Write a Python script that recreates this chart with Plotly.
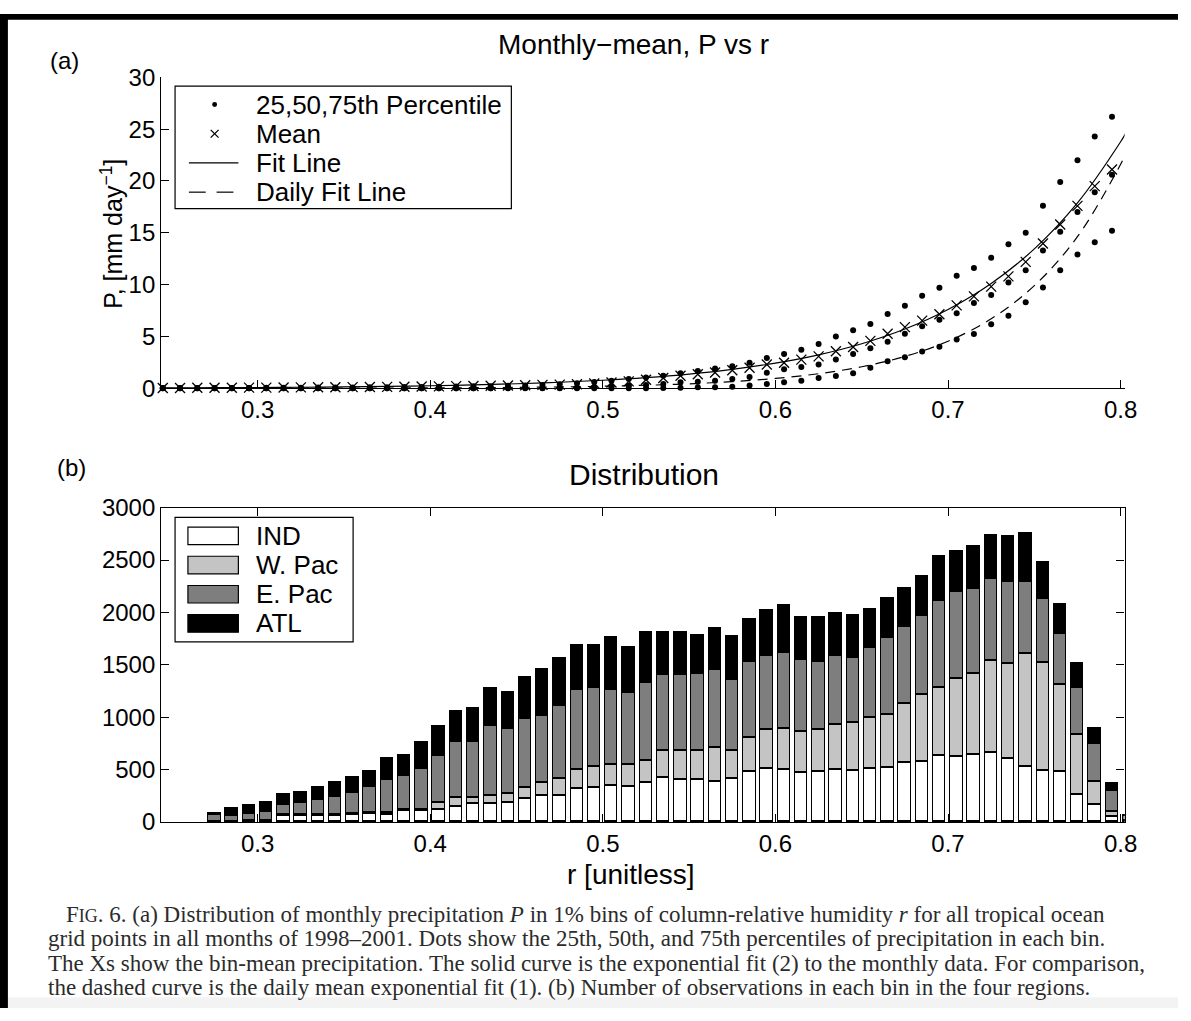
import plotly.graph_objects as go

W, H = 1191, 1021


def fx(px):
    return px / W


def fy(py):
    return 1 - py / H


# ---------------- data ----------------
# bin centres of column-relative humidity r (1% bins)
r_bins = [0.245, 0.255, 0.265, 0.275, 0.285, 0.295, 0.305, 0.315, 0.325, 0.335,
          0.345, 0.355, 0.365, 0.375, 0.385, 0.395, 0.405, 0.415, 0.425, 0.435,
          0.445, 0.455, 0.465, 0.475, 0.485, 0.495, 0.505, 0.515, 0.525, 0.535,
          0.545, 0.555, 0.565, 0.575, 0.585, 0.595, 0.605, 0.615, 0.625, 0.635,
          0.645, 0.655, 0.665, 0.675, 0.685, 0.695, 0.705, 0.715, 0.725, 0.735,
          0.745, 0.755, 0.765, 0.775, 0.785, 0.795, 0.805]

# bin-mean precipitation (mm/day)
p_mean = [0.04, 0.04, 0.05, 0.05, 0.06, 0.07, 0.07, 0.08, 0.09, 0.10,
          0.11, 0.12, 0.13, 0.14, 0.16, 0.18, 0.19, 0.21, 0.23, 0.25,
          0.27, 0.30, 0.33, 0.36, 0.40, 0.47, 0.56, 0.67, 0.83, 0.99,
          1.21, 1.36, 1.52, 1.74, 1.99, 2.30, 2.46, 2.77, 3.08, 3.58,
          3.99, 4.58, 5.27, 5.90, 6.53, 7.15, 8.00, 8.87, 9.81, 10.8,
          12.2, 13.97, 15.8, 17.6, 19.5, 21.1, 21.3]

# 25th / 50th / 75th percentiles of precipitation (mm/day)
p_75 = [0.02, 0.02, 0.03, 0.03, 0.04, 0.04, 0.05, 0.05, 0.06, 0.07,
        0.08, 0.09, 0.10, 0.11, 0.12, 0.14, 0.15, 0.17, 0.19, 0.21,
        0.24, 0.27, 0.32, 0.40, 0.50, 0.60, 0.73, 0.89, 1.05, 1.21,
        1.45, 1.67, 1.92, 2.14, 2.46, 2.93, 3.30, 3.71, 4.27, 5.00,
        5.59, 6.21, 7.18, 7.96, 8.94, 9.69, 10.85, 11.6, 12.6, 13.9,
        15.0, 17.6, 19.9, 22.0, 24.3, 26.2, 27.6]
p_50 = [0.0, 0.0, 0.0, 0.0, 0.0, 0.0, 0.0, 0.0, 0.0, 0.0,
        0.0, 0.0, 0.0, 0.0, 0.0, 0.0, 0.0, 0.01, 0.01, 0.01,
        0.02, 0.02, 0.02, 0.03, 0.05, 0.10, 0.20, 0.27, 0.33, 0.42,
        0.58, 0.64, 0.73, 0.89, 1.10, 1.50, 1.83, 2.05, 2.30, 2.77,
        3.30, 3.86, 4.49, 5.27, 5.99, 6.62, 7.25, 8.22, 9.00, 10.2,
        11.4, 13.3, 15.1, 17.0, 18.9, 20.6, 21.0]
p_25 = [0.0, 0.0, 0.0, 0.0, 0.0, 0.0, 0.0, 0.0, 0.0, 0.0,
        0.0, 0.0, 0.0, 0.0, 0.0, 0.0, 0.0, 0.0, 0.0, 0.0,
        0.0, 0.0, 0.0, 0.0, 0.0, 0.0, 0.0, 0.0, 0.0, 0.03,
        0.05, 0.10, 0.11, 0.15, 0.27, 0.42, 0.58, 0.73, 0.99, 1.20,
        1.46, 1.99, 2.61, 2.99, 3.55, 4.02, 4.71, 5.24, 6.18, 7.00,
        8.31, 9.72, 11.4, 12.9, 14.1, 15.2, 15.1]

# exponential fit curves sampled along r
r_fit = [0.245, 0.25, 0.275, 0.30, 0.325, 0.35, 0.375, 0.40, 0.425, 0.45,
         0.475, 0.50, 0.525, 0.55, 0.575, 0.60, 0.625, 0.65, 0.675, 0.70,
         0.725, 0.75, 0.775, 0.80, 0.803]
p_fit_monthly = [0.0425, 0.0450, 0.0599, 0.0796, 0.1058, 0.1407, 0.1871, 0.2488,
                 0.3309, 0.4400, 0.5851, 0.7780, 1.0346, 1.3758, 1.8294, 2.4326,
                 3.2348, 4.3015, 5.7199, 7.6061, 10.114, 13.449, 17.884, 23.782,
                 24.62]
p_fit_daily = [0.00375, 0.00406, 0.00600, 0.00886, 0.01309, 0.01932, 0.02853,
               0.04214, 0.06223, 0.09190, 0.1357, 0.2005, 0.2961, 0.4374, 0.6460,
               0.9541, 1.4092, 2.0813, 3.0741, 4.5403, 6.7058, 9.9042, 14.628,
               21.606, 22.65]

# number of observations per bin, by region
n_ind = [0, 0, 0, 2, 4, 5, 6, 59, 59, 62, 59, 74, 83, 74, 108, 105, 121, 152, 176,
         180, 185, 225, 256, 256, 324, 333, 348, 339, 373, 425, 404, 404, 385, 410,
         481, 512, 496, 468, 479, 504, 488, 513, 522, 565, 578, 637, 627, 640, 658,
         606, 528, 494, 482, 266, 164, 56, 10]
n_wpac = [0, 0, 0, 2, 3, 5, 6, 11, 9, 10, 11, 10, 10, 12, 12, 13, 61, 86, 56, 72,
          86, 108, 123, 157, 179, 200, 201, 210, 216, 256, 274, 277, 324, 268, 321,
          370, 392, 396, 402, 426, 458, 485, 507, 566, 636, 648, 742, 781, 881, 902,
          1082, 1023, 825, 571, 225, 46, 5]
n_epac = [0, 0, 0, 68, 55, 73, 87, 100, 118, 144, 177, 194, 247, 316, 319, 392, 452,
          526, 532, 666, 617, 657, 632, 700, 764, 746, 718, 687, 746, 722, 728, 737,
          743, 679, 727, 709, 731, 688, 652, 661, 624, 664, 732, 735, 751, 829, 828,
          807, 782, 782, 680, 618, 494, 445, 362, 195, 45]
n_atl = [0, 0, 0, 4, 62, 72, 87, 93, 92, 109, 127, 146, 145, 201, 198, 248, 272, 290,
         315, 356, 348, 391, 441, 444, 413, 401, 493, 429, 475, 407, 397, 364, 389,
         410, 407, 428, 444, 403, 414, 399, 398, 365, 371, 365, 374, 414, 386, 399,
         414, 429, 460, 337, 269, 226, 139, 68, 5]

region_names = ["IND", "W. Pac", "E. Pac", "ATL"]
region_colors = ["#ffffff", "#c4c4c4", "#7e7e7e", "#000000"]

x_ticks = [0.3, 0.4, 0.5, 0.6, 0.7, 0.8]
p_ticks = [0, 5, 10, 15, 20, 25, 30]
n_ticks = [0, 500, 1000, 1500, 2000, 2500, 3000]

# ---------------- figure ----------------
FONT = "Liberation Sans, Arial, sans-serif"
SERIF = "Liberation Serif, Times New Roman, serif"
fig = go.Figure()

# panel (a): percentiles, mean, fits
dot = dict(symbol="circle", size=6, color="black")
for p in [p_25, p_50, p_75]:
    fig.add_trace(go.Scatter(x=r_bins, y=p, mode="markers", marker=dot,
                             name="25,50,75th Percentile", cliponaxis=False,
                             xaxis="x", yaxis="y"))
fig.add_trace(go.Scatter(x=r_bins, y=p_mean, mode="markers", name="Mean",
                         marker=dict(symbol="x-thin-open", size=10, color="black",
                                     line=dict(width=1.3, color="black")),
                         cliponaxis=False, xaxis="x", yaxis="y"))
fig.add_trace(go.Scatter(x=r_fit, y=p_fit_monthly, mode="lines", name="Fit Line",
                         line=dict(color="black", width=1.2, shape="spline"),
                         xaxis="x", yaxis="y"))
fig.add_trace(go.Scatter(x=r_fit, y=p_fit_daily, mode="lines", name="Daily Fit Line",
                         line=dict(color="black", width=1.2, shape="spline",
                                   dash="10px,7px"),
                         xaxis="x", yaxis="y"))

# panel (b): stacked counts (empty segments are skipped)
for name, vals, col in zip(region_names, [n_ind, n_wpac, n_epac, n_atl], region_colors):
    xs = [r for r, v in zip(r_bins, vals) if v > 0]
    ys = [v for v in vals if v > 0]
    fig.add_trace(go.Bar(x=xs, y=ys, width=0.0072, name=name,
                         marker=dict(color=col, line=dict(color="black", width=1.3)),
                         xaxis="x2", yaxis="y2"))

axis_common = dict(showline=True, linecolor="black", linewidth=1.3, ticks="inside",
                   ticklen=8, tickwidth=1.2, tickcolor="black", showgrid=False,
                   zeroline=False, tickfont=dict(family=FONT, size=24, color="black"))

x_left, x_right = 163, 1137
xr = [0.2441, 0.8023]

fig.update_layout(
    width=W, height=H, margin=dict(l=0, r=0, t=0, b=0),
    paper_bgcolor="white", plot_bgcolor="white",
    font=dict(family=FONT, color="black"),
    barmode="stack", bargap=0, showlegend=False,
    xaxis=dict(axis_common, domain=[fx(x_left), fx(x_right)], range=xr,
               tickvals=x_ticks, ticktext=[f"{t:.1f}" for t in x_ticks],
               anchor="y", mirror=False),
    yaxis=dict(axis_common, domain=[fy(384.5), fy(65)], range=[0, 30],
               tickvals=p_ticks, anchor="x", mirror=False),
    xaxis2=dict(axis_common, domain=[fx(x_left), fx(x_right)], range=xr,
                tickvals=x_ticks, ticktext=[f"{t:.1f}" for t in x_ticks],
                anchor="y2", mirror="allticks"),
    yaxis2=dict(axis_common, domain=[fy(830), fy(507)], range=[0, 3000],
                tickvals=n_ticks, anchor="x2", mirror="allticks"),
)

ann = []
shapes = []


def text(x, y, s, size, family=FONT, xanchor="center", angle=0, color="black"):
    ann.append(dict(x=fx(x), y=fy(y), xref="paper", yref="paper", text=s,
                    showarrow=False, xanchor=xanchor, yanchor="middle",
                    textangle=angle, font=dict(family=family, size=size, color=color)))


def pline(x0, y0, x1, y1, width=1.2):
    shapes.append(dict(type="line", xref="paper", yref="paper", x0=fx(x0), y0=fy(y0),
                       x1=fx(x1), y1=fy(y1), line=dict(color="black", width=width),
                       layer="above"))


def prect(x0, y0, x1, y1, fill, lw=1.2):
    shapes.append(dict(type="rect", xref="paper", yref="paper", x0=fx(x0), x1=fx(x1),
                       y0=fy(y1), y1=fy(y0), line=dict(color="black", width=lw),
                       fillcolor=fill, layer="above"))


text(640, 31, "Monthly\u2212mean, P vs r", 28)
text(651, 473, "Distribution", 30)
text(65, 48, "(a)", 24)
text(72, 466, "(b)", 24)
text(113, 226, "P, [mm day<sup>\u22121</sup>]", 25, angle=-90)
text(638, 884, "r [unitless]", 28)

# legend of panel (a)
prect(177, 74, 517, 200, "white")
shapes.append(dict(type="circle", xref="paper", yref="paper", x0=fx(214.5), x1=fx(219.5),
                   y0=fy(95.5), y1=fy(90.5), fillcolor="black", line=dict(width=0),
                   layer="above"))
pline(213, 119, 221, 127, 1.3)
pline(213, 127, 221, 119, 1.3)
pline(191, 153, 241, 153)
pline(191, 183, 208, 183)
pline(219, 183, 236, 183)
for k, s in enumerate(["25,50,75th Percentile", "Mean", "Fit Line", "Daily Fit Line"]):
    text(257, 93 + 30 * k, s, 26, xanchor="left")

# legend of panel (b)
prect(177, 517, 357, 645, "white")
for k, (name, col) in enumerate(zip(region_names, region_colors)):
    yc = 536 + 30 * k
    prect(190, yc - 9, 241, yc + 9, col)
    text(257, yc, name, 26, xanchor="left")

# page framing: dark strips along the top and left edges, light band at the foot
shapes.append(dict(type="rect", xref="paper", yref="paper", x0=0, x1=1, y0=fy(6), y1=1,
                   line=dict(width=0), fillcolor="black", layer="above"))
shapes.append(dict(type="rect", xref="paper", yref="paper", x0=0, x1=fx(8), y0=0, y1=1,
                   line=dict(width=0), fillcolor="black", layer="above"))
shapes.append(dict(type="rect", xref="paper", yref="paper", x0=fx(8), x1=1, y0=0, y1=fy(1010),
                   line=dict(width=0), fillcolor="#f3f3f3", layer="below"))

# caption
cap = [
    (65, 925, "F<span style='font-size:18px'>IG</span>. 6. (a) Distribution of monthly precipitation "
              "<i>P</i> in 1% bins of column-relative humidity <i>r</i> for all tropical ocean"),
    (47, 950, "grid points in all months of 1998\u20132001. Dots show the 25th, 50th, and 75th "
              "percentiles of precipitation in each bin."),
    (47, 975, "The Xs show the bin-mean precipitation. The solid curve is the exponential fit (2) "
              "to the monthly data. For comparison,"),
    (47, 1000, "the dashed curve is the daily mean exponential fit (1). (b) Number of observations "
               "in each bin in the four regions."),
]
for x, y, s in cap:
    text(x, y, s, 23, family=SERIF, xanchor="left", color="#2b2b2b")

fig.update_layout(annotations=ann, shapes=shapes)
fig.write_html("out.html")
